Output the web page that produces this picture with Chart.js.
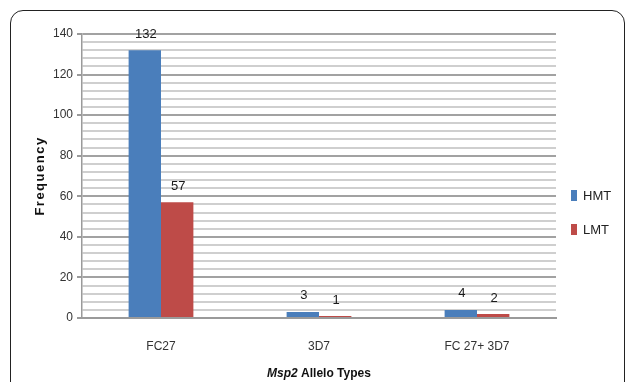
<!DOCTYPE html>
<html lang="en">
<head>
    <meta charset="UTF-8">
    <title>Msp2 Allelo Types</title>
    <script src="https://cdn.jsdelivr.net/npm/chart.js"></script>
    <style>
        body { margin: 0; background: #fff; }
        #wrap { position: relative; width: 630px; height: 382px; overflow: hidden; }
        #frame { position: absolute; left: 10px; top: 10px; width: 615px; height: 420px;
                 border: 1.5px solid #222; border-radius: 13px; box-sizing: border-box; }
        #myChart { position: absolute; left: 0; top: 0; }
    </style>
</head>
<body>
    <div id="wrap">
        <div id="frame"></div>
        <canvas id="myChart" width="630" height="382"></canvas>
    </div>

    <script>
        // data
        const categories = ['FC27', '3D7', 'FC 27+ 3D7'];
        const hmtValues = [132, 3, 4];
        const lmtValues = [57, 1, 2];
        const seriesNames = ['HMT', 'LMT'];
        const seriesColors = ['#4a7ebb', '#be4b48'];
        const yMax = 140;

        const fontFam = '"Liberation Sans", Arial, sans-serif';

        // value labels above each bar
        const valueLabels = {
          id: 'valueLabels',
          afterDatasetsDraw(chart) {
            const ctx = chart.ctx;
            ctx.save();
            ctx.font = '13px ' + fontFam;
            ctx.fillStyle = '#1a1a1a';
            ctx.textAlign = 'center';
            ctx.textBaseline = 'middle';
            chart.data.datasets.forEach((ds, i) => {
              chart.getDatasetMeta(i).data.forEach((bar, j) => {
                ctx.fillText(ds.data[j], bar.x + 1, bar.y - 16);
              });
            });
            ctx.restore();
          }
        };

        // axis titles + legend, drawn like the excel chart
        const extras = {
          id: 'extras',
          afterDraw(chart) {
            const ctx = chart.ctx;
            ctx.save();
            // y title
            ctx.translate(40, 176);
            ctx.rotate(-Math.PI / 2);
            ctx.font = 'bold 13px ' + fontFam;
            ctx.letterSpacing = '1.5px';
            ctx.fillStyle = '#111';
            ctx.textAlign = 'center';
            ctx.textBaseline = 'middle';
            ctx.fillText('Frequency', 0, 0);
            ctx.restore();

            // x title, Msp2 in italic
            ctx.save();
            ctx.fillStyle = '#111';
            ctx.textBaseline = 'middle';
            const p1 = 'Msp2', p2 = ' Allelo Types';
            ctx.font = 'italic bold 12px ' + fontFam;
            const w1 = ctx.measureText(p1).width;
            ctx.font = 'bold 12px ' + fontFam;
            const w2 = ctx.measureText(p2).width;
            let x = 319 - (w1 + w2) / 2;
            ctx.font = 'italic bold 12px ' + fontFam;
            ctx.fillText(p1, x, 374);
            ctx.font = 'bold 12px ' + fontFam;
            ctx.fillText(p2, x + w1, 374);

            // legend
            const legY = [195, 229];
            ctx.font = '13px ' + fontFam;
            chart.data.datasets.forEach((ds, i) => {
              ctx.fillStyle = ds.backgroundColor;
              ctx.fillRect(571, legY[i] - 5, 6, 11);
              ctx.fillStyle = '#222';
              ctx.fillText(ds.label, 583, legY[i] + 1);
            });
            ctx.restore();
          }
        };

        const ctx = document.getElementById('myChart').getContext('2d');
        const myChart = new Chart(ctx, {
          type: 'bar',
          data: {
            labels: categories,
            datasets: [
              { label: seriesNames[0], data: hmtValues, backgroundColor: seriesColors[0] },
              { label: seriesNames[1], data: lmtValues, backgroundColor: seriesColors[1] }
            ]
          },
          options: {
            responsive: false,
            animation: false,
            categoryPercentage: 0.41,
            barPercentage: 1,
            layout: { padding: { top: 34, right: 74, left: 0, bottom: 0 } },
            plugins: {
              legend: { display: false },
              tooltip: { enabled: false }
            },
            scales: {
              x: {
                grid: { display: false, drawTicks: false },
                border: { display: true, color: '#9a9a9a', width: 2 },
                ticks: { padding: 21, color: '#333', font: { family: fontFam, size: 12 } },
                afterFit: s => { s.height = 64; }
              },
              y: {
                min: 0,
                max: yMax,
                border: { display: true, color: '#9a9a9a', width: 1.5 },
                grid: {
                  tickLength: 5,
                  lineWidth: 2,
                  color: c => (c.tick && c.tick.value % 20 === 0) ? '#a2a2a2' : '#cfcfcf',
                  tickColor: c => (c.tick && c.tick.value % 20 === 0) ? '#9a9a9a' : 'rgba(0,0,0,0)'
                },
                ticks: {
                  stepSize: 4,
                  autoSkip: false,
                  padding: 4,
                  color: '#333',
                  font: { family: fontFam, size: 12 },
                  callback: v => v % 20 === 0 ? v : ''
                },
                afterFit: s => { s.width = 82; }
              }
            }
          },
          plugins: [valueLabels, extras]
        });
    </script>
</body>
</html>
